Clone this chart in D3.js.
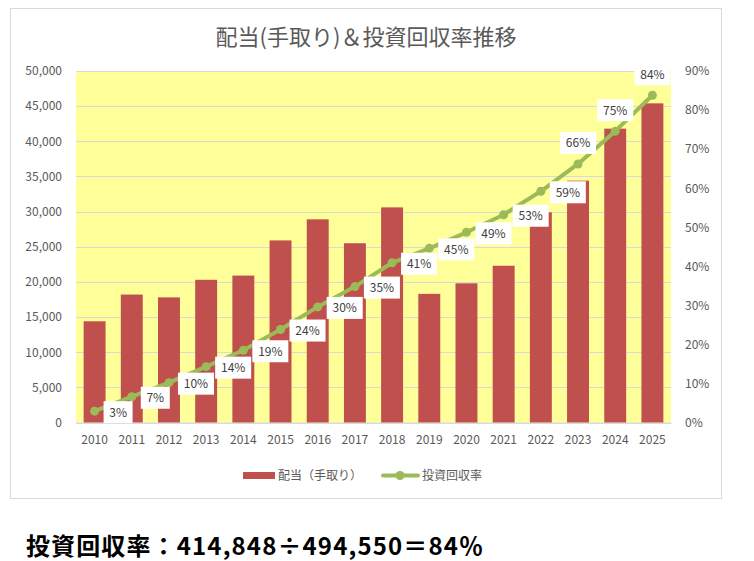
<!DOCTYPE html>
<html>
<head>
<meta charset="utf-8">
<script src="https://cdn.jsdelivr.net/npm/d3@7"></script>
<style>
  body { margin: 0; background: #fff; }
  text { font-family: "Noto Sans CJK JP", "Noto Sans", sans-serif; }
</style>
</head>
<body>
<svg id="chart" width="754" height="561"></svg>
<script>
// data
var years = ["2010", "2011", "2012", "2013", "2014", "2015", "2016", "2017",
  "2018", "2019", "2020", "2021", "2022", "2023", "2024", "2025"];
var dividends = [14400, 18200, 17800, 20300, 20900, 25900, 28900, 25500,
  30600, 18300, 19800, 22300, 29900, 34400, 41800, 45400];
var recovery = [2.9, 6.6, 10.2, 14.3, 18.5, 23.8, 29.6, 34.8,
  40.9, 44.6, 48.7, 53.2, 59.2, 66.2, 74.6, 83.8];
var leftTicks = [0, 5000, 10000, 15000, 20000, 25000, 30000, 35000, 40000, 45000, 50000];
var rightTicks = [0, 10, 20, 30, 40, 50, 60, 70, 80, 90];
var labelAbove = ["2023", "2024", "2025"];

var svg = d3.select("#chart");
var margin = { left: 76, right: 671, top: 71, bottom: 422.5 };

// chart frame
svg.append("rect")
  .attr("x", 10.5).attr("y", 8.5)
  .attr("width", 711).attr("height", 490)
  .attr("fill", "#fff").attr("stroke", "#d9d9d9");

// title
svg.append("text")
  .attr("x", 366).attr("y", 45)
  .attr("text-anchor", "middle")
  .attr("font-size", 22)
  .attr("fill", "#595959")
  .text("配当(手取り)＆投資回収率推移");

var x = d3.scaleBand().domain(years)
  .range([margin.left, margin.right]).paddingInner(0.41).paddingOuter(0.205);
var y = d3.scaleLinear().domain([0, 50000]).range([margin.bottom, margin.top]);
var y2 = d3.scaleLinear().domain([0, 90]).range([margin.bottom, margin.top]);

// plot background
svg.append("rect")
  .attr("x", margin.left).attr("y", margin.top)
  .attr("width", margin.right - margin.left)
  .attr("height", margin.bottom - margin.top)
  .attr("fill", "#ffff99");

// gridlines
svg.append("g").selectAll("line")
  .data(leftTicks)
  .join("line")
  .attr("x1", margin.left).attr("x2", margin.right)
  .attr("y1", function (d) { return Math.round(y(d)) + 0.5; })
  .attr("y2", function (d) { return Math.round(y(d)) + 0.5; })
  .attr("stroke", "#d9d9d9")
  .attr("stroke-width", 1);

// left axis
var leftAxis = svg.append("g")
  .attr("transform", "translate(" + margin.left + ",0)")
  .call(d3.axisLeft(y).tickValues(leftTicks).tickSize(0).tickPadding(14)
    .tickFormat(d3.format(",")));
leftAxis.select(".domain").remove();
leftAxis.selectAll("text").attr("font-size", 12).attr("fill", "#595959")
  .style("font-family", "'Noto Sans CJK JP', sans-serif");

// right axis
var rightAxis = svg.append("g")
  .attr("transform", "translate(" + margin.right + ",0)")
  .call(d3.axisRight(y2).tickValues(rightTicks).tickSize(0).tickPadding(14)
    .tickFormat(function (d) { return d + "%"; }));
rightAxis.select(".domain").remove();
rightAxis.selectAll("text").attr("font-size", 12).attr("fill", "#595959")
  .style("font-family", "'Noto Sans CJK JP', sans-serif");

// bottom axis
var bottomAxis = svg.append("g")
  .attr("transform", "translate(0," + margin.bottom + ")")
  .call(d3.axisBottom(x).tickSize(0).tickPadding(13));
bottomAxis.select(".domain").attr("stroke", "#d9d9d9");
bottomAxis.selectAll("text").attr("font-size", 12).attr("fill", "#595959")
  .style("font-family", "'Noto Sans CJK JP', sans-serif");

// bars
svg.append("g").selectAll("rect")
  .data(years)
  .join("rect")
  .attr("x", function (d) { return x(d); })
  .attr("width", x.bandwidth())
  .attr("y", function (d, i) { return y(dividends[i]); })
  .attr("height", function (d, i) { return margin.bottom - y(dividends[i]); })
  .attr("fill", "#c0504d");

// recovery line
var cx = function (d) { return x(d) + x.bandwidth() / 2; };
var line = d3.line()
  .x(function (d) { return cx(d); })
  .y(function (d, i) { return y2(recovery[i]); });
svg.append("path")
  .datum(years)
  .attr("d", line)
  .attr("fill", "none")
  .attr("stroke", "#9bbb59")
  .attr("stroke-width", 4)
  .attr("stroke-linejoin", "round")
  .attr("stroke-linecap", "round");
svg.append("g").selectAll("circle")
  .data(years)
  .join("circle")
  .attr("cx", cx)
  .attr("cy", function (d, i) { return y2(recovery[i]); })
  .attr("r", 4.5)
  .attr("fill", "#9bbb59");

// data labels
function pct(i) { return Math.round(recovery[i]) + "%"; }
function boxW(i) { return pct(i).length > 2 ? 36 : 29; }
var labels = svg.append("g").selectAll("g")
  .data(years)
  .join("g")
  .attr("transform", function (d, i) {
    var px = cx(d), py = y2(recovery[i]);
    if (labelAbove.indexOf(d) >= 0) {
      return "translate(" + (px - boxW(i) / 2) + "," + (py - 32) + ")";
    }
    return "translate(" + (px + 9) + "," + (py - 10) + ")";
  });
labels.append("rect")
  .attr("width", function (d, i) { return boxW(i); })
  .attr("height", 22)
  .attr("fill", "#fff");
labels.append("text")
  .attr("x", function (d, i) { return boxW(i) / 2; })
  .attr("y", 15.5)
  .attr("text-anchor", "middle")
  .attr("font-size", 12)
  .attr("fill", "#404040")
  .text(function (d, i) { return pct(i); });

// legend
var legend = svg.append("g");
legend.append("rect")
  .attr("x", 243).attr("y", 472).attr("width", 32).attr("height", 7)
  .attr("fill", "#c0504d");
legend.append("text")
  .attr("x", 278).attr("y", 480).attr("font-size", 12).attr("fill", "#595959")
  .text("配当（手取り）");
legend.append("line")
  .attr("x1", 383).attr("x2", 418).attr("y1", 475.5).attr("y2", 475.5)
  .attr("stroke", "#9bbb59").attr("stroke-width", 4).attr("stroke-linecap", "round");
legend.append("circle")
  .attr("cx", 400).attr("cy", 475.5).attr("r", 4.5).attr("fill", "#9bbb59");
legend.append("text")
  .attr("x", 422).attr("y", 480).attr("font-size", 12).attr("fill", "#595959")
  .text("投資回収率");

// summary line under the chart
svg.append("text")
  .attr("x", 26).attr("y", 555)
  .attr("font-size", 24)
  .attr("font-weight", "bold")
  .attr("fill", "#000")
  .attr("textLength", 457)
  .attr("lengthAdjust", "spacing")
  .text("投資回収率：414,848÷494,550＝84％");
</script>
</body>
</html>
